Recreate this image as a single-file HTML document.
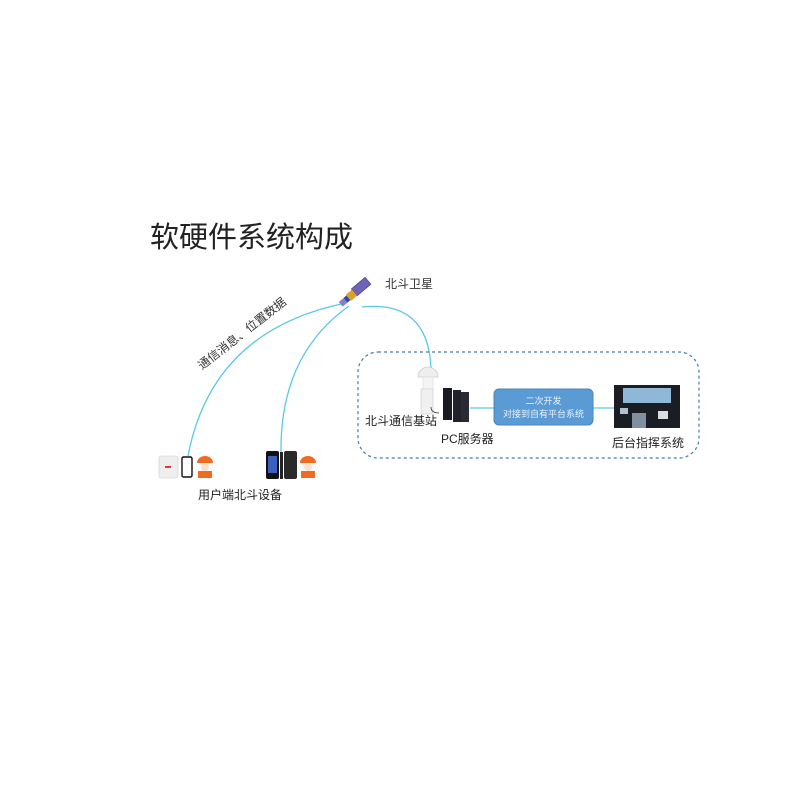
<!DOCTYPE html>
<html><head><meta charset="utf-8"><style>
html,body{margin:0;padding:0;background:#fff;}
svg{display:block;font-family:"Liberation Sans","Noto Sans CJK SC",sans-serif;}
</style></head><body>
<svg width="800" height="800" viewBox="0 0 800 800" xmlns="http://www.w3.org/2000/svg">
<text x="150" y="247" font-size="29" fill="#222">软硬件系统构成</text>
<!-- arcs -->
<g fill="none" stroke="#5bc8e6" stroke-width="1.3">
<path d="M188,456 Q212,330 346,303"/>
<path d="M281,452 Q280,355 349,306"/>
<path d="M362,307 Q428,300 431,368"/>
<path d="M470,408 L494,408"/>
<path d="M593,408 L614,408"/>
</g>
<text transform="translate(202,370) rotate(-38)" font-size="12" fill="#333">通信消息、位置数据</text>
<!-- satellite -->
<g transform="translate(353,294) rotate(-40)">
<rect x="2" y="-5" width="18" height="9" fill="#6d64b8" stroke="#3d3680" stroke-width="0.6"/>
<rect x="-6" y="-4" width="8" height="8" fill="#e0a020"/>
<rect x="-10" y="-3" width="4" height="6" fill="#2a4ea0"/>
<rect x="-16" y="-3" width="6" height="6" fill="#8a80c8"/>
</g>
<text x="385" y="288" font-size="12" fill="#333">北斗卫星</text>
<!-- dashed box -->
<rect x="358" y="352" width="341" height="106" rx="20" fill="none" stroke="#4a7aaa" stroke-width="1.2" stroke-dasharray="3,3"/>
<!-- antenna -->
<path d="M418,377 A10,10 0 0 1 438,377 Z" fill="#eee" stroke="#ccc" stroke-width="0.8"/>
<rect x="423" y="377" width="10" height="20" fill="#f4f4f4" stroke="#ddd" stroke-width="0.6"/>
<rect x="421" y="389" width="12" height="25" fill="#f0f0f0" stroke="#ccc" stroke-width="0.6"/>
<path d="M431,407 q0,6 8,6" fill="none" stroke="#333" stroke-width="0.8"/>
<text x="365" y="425" font-size="12" fill="#222">北斗通信基站</text>
<!-- server -->
<rect x="443" y="388" width="9" height="32" fill="#1a1a22"/>
<rect x="453" y="390" width="8" height="32" fill="#22222c"/>
<rect x="461" y="392" width="8" height="30" fill="#2a2a34"/>
<text x="441" y="443" font-size="12" fill="#222">PC服务器</text>
<!-- blue box -->
<rect x="494" y="389" width="99" height="36" rx="5" fill="#5b9bd5" stroke="#4a84c0"/>
<text x="543.5" y="404" font-size="9" fill="#e8f0fa" text-anchor="middle">二次开发</text>
<text x="543.5" y="417" font-size="9" fill="#e8f0fa" text-anchor="middle">对接到自有平台系统</text>
<!-- monitor room -->
<rect x="614" y="385" width="66" height="43" fill="#1a1d24"/>
<rect x="623" y="388" width="48" height="15" fill="#8fb8d8"/>
<rect x="632" y="413" width="14" height="15" fill="#8090a0"/>
<rect x="658" y="411" width="10" height="8" fill="#d8dce0"/>
<rect x="620" y="408" width="8" height="6" fill="#b0c0d0"/>
<text x="612" y="447" font-size="12" fill="#222">后台指挥系统</text>
<!-- user devices -->
<rect x="159" y="456" width="19" height="22" rx="2" fill="#eee" stroke="#ccc" stroke-width="0.6"/>
<rect x="165" y="466" width="6" height="2" fill="#e33"/>
<rect x="182" y="457" width="10" height="20" rx="1.5" fill="#fff" stroke="#111" stroke-width="1.4"/>
<g fill="#f26a22">
<path d="M197,463 a8,7 0 0 1 16,0 z"/>
<rect x="198" y="471" width="14" height="7"/>
<path d="M300,463 a8,7 0 0 1 16,0 z"/>
<rect x="301" y="471" width="14" height="7"/>
</g>
<circle cx="205" cy="467" r="4" fill="#fde0cc"/>
<circle cx="308" cy="467" r="4" fill="#fde0cc"/>
<rect x="266" y="451" width="13" height="28" rx="2" fill="#111"/>
<rect x="268" y="456" width="9" height="17" fill="#3a60c0"/>
<rect x="280" y="452" width="3" height="27" fill="#222"/>
<rect x="284" y="451" width="13" height="28" rx="2" fill="#2a2a2a"/>
<text x="198" y="499" font-size="12" fill="#222">用户端北斗设备</text>
</svg>
</body></html>
